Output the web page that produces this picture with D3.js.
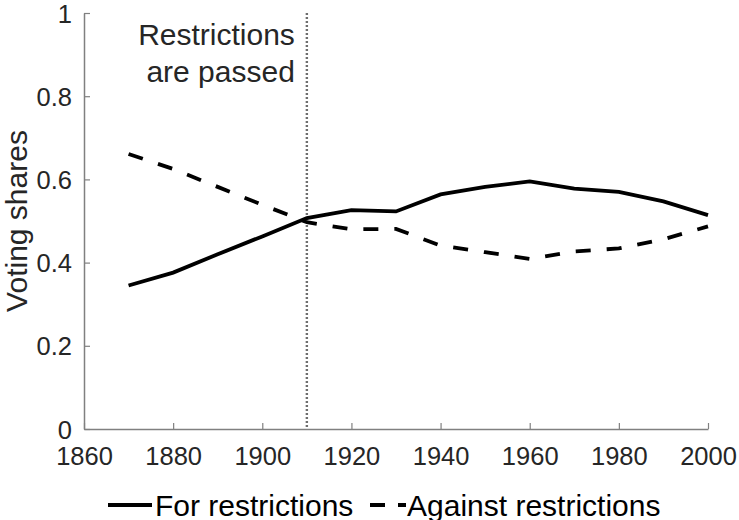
<!DOCTYPE html>
<html>
<head>
<meta charset="utf-8">
<script src="https://cdn.jsdelivr.net/npm/d3@7"></script>
<style>
  body { margin: 0; background: #fff; }
  text { font-family: "Liberation Sans", Arial, sans-serif; }
</style>
</head>
<body>
<script>
var years = [1870, 1880, 1890, 1900, 1910, 1920, 1930, 1940, 1950, 1960, 1970, 1980, 1990, 2000];
var forShare = [0.345, 0.376, 0.420, 0.463, 0.507, 0.526, 0.523, 0.564, 0.582, 0.595, 0.578, 0.570, 0.547, 0.514];
var againstShare = [0.661, 0.625, 0.582, 0.539, 0.497, 0.480, 0.481, 0.441, 0.425, 0.409, 0.427, 0.434, 0.456, 0.487];
var xTicks = [1860, 1880, 1900, 1920, 1940, 1960, 1980, 2000];
var yTicks = [0, 0.2, 0.4, 0.6, 0.8, 1];
var passedYear = 1910;
var seriesNames = ["For restrictions", "Against restrictions"];

var width = 739, height = 520;
var axisColor = "#808080";
var textColor = "#262626";

var svg = d3.select("body").append("svg")
  .attr("width", width)
  .attr("height", height);

var x = d3.scaleLinear().domain([1860, 2000]).range([84, 708]);
var y = d3.scaleLinear().domain([0, 1]).range([429, 13]);

// axes, ticks pointing inward like matlab
var xAxis = d3.axisBottom(x).tickValues(xTicks).tickFormat(d3.format("d")).tickSizeInner(-6).tickSizeOuter(0).tickPadding(18);
var yAxis = d3.axisLeft(y).tickValues(yTicks).tickFormat(d3.format("")).tickSizeInner(-6).tickSizeOuter(0).tickPadding(12);

var gx = svg.append("g").attr("class", "x-axis").attr("transform", "translate(0," + y(0) + ")").call(xAxis);
var gy = svg.append("g").attr("class", "y-axis").attr("transform", "translate(" + x(1860) + ",0)").call(yAxis);

[gx, gy].forEach(function(g){
  g.select(".domain").attr("stroke", axisColor).attr("stroke-width", 1.5);
  g.selectAll(".tick line").attr("stroke", axisColor).attr("stroke-width", 1.2);
  g.selectAll(".tick text").attr("fill", textColor).style("font-size", "25.5px");
});
gx.selectAll(".tick text").attr("dy", "0.71em");
gy.selectAll(".tick text").attr("dy", "0.36em");

// y label
svg.append("text")
  .attr("transform", "translate(27," + y(0.5) + ") rotate(-90)")
  .attr("text-anchor", "middle")
  .attr("fill", textColor)
  .style("font-size", "30px")
  .text("Voting shares");

// vertical marker
svg.append("line")
  .attr("x1", x(passedYear)).attr("x2", x(passedYear))
  .attr("y1", y(1)).attr("y2", y(0))
  .attr("stroke", "#6e6e6e")
  .attr("stroke-width", 2.4)
  .attr("stroke-dasharray", "2,2");

var note = svg.append("text")
  .attr("text-anchor", "end")
  .attr("fill", textColor)
  .style("font-size", "30px");
note.append("tspan").attr("x", x(passedYear) - 12).attr("y", 45).text("Restrictions");
note.append("tspan").attr("x", x(passedYear) - 12).attr("y", 82).text("are passed");

var line = d3.line()
  .x(function(d, i){ return x(years[i]); })
  .y(function(d){ return y(d); });

svg.append("path")
  .attr("d", line(forShare))
  .attr("fill", "none")
  .attr("stroke", "#000")
  .attr("stroke-width", 3.8);

svg.append("path")
  .attr("d", line(againstShare))
  .attr("fill", "none")
  .attr("stroke", "#000")
  .attr("stroke-width", 3.8)
  .attr("stroke-dasharray", "15,16");

// legend
var legend = svg.append("g").attr("class", "legend");
var ly = 505;
legend.append("line")
  .attr("x1", 108).attr("x2", 152).attr("y1", ly).attr("y2", ly)
  .attr("stroke", "#000").attr("stroke-width", 3.8);
legend.append("text")
  .attr("x", 155).attr("y", ly).attr("dy", "0.35em")
  .style("font-size", "30px").attr("fill", "#000")
  .text(seriesNames[0]);
legend.append("line")
  .attr("x1", 362).attr("x2", 406).attr("y1", ly).attr("y2", ly)
  .attr("stroke", "#000").attr("stroke-width", 3.8)
  .attr("stroke-dasharray", "15,13").attr("stroke-dashoffset", -8);
legend.append("text")
  .attr("x", 407).attr("y", ly).attr("dy", "0.35em")
  .style("font-size", "30px").attr("fill", "#000")
  .text(seriesNames[1]);
</script>
</body>
</html>
